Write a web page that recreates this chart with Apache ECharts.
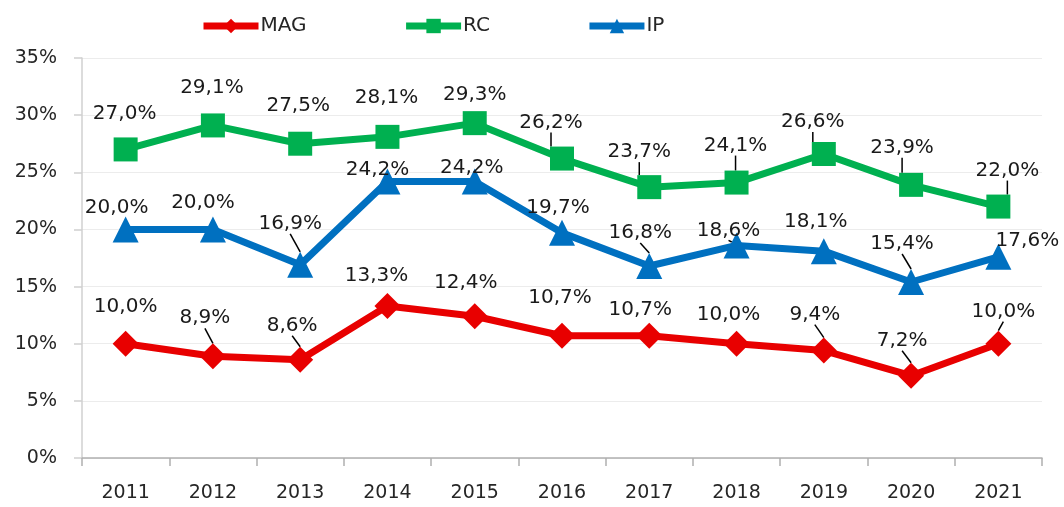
<!DOCTYPE html>
<html>
<head>
<meta charset="utf-8">
<script src="https://cdn.jsdelivr.net/npm/echarts@6/dist/echarts.min.js"></script>
<style>
  html, body { margin: 0; padding: 0; background: #fff; }
  #chart { width: 1064px; height: 507px; }
</style>
</head>
<body>
<div id="chart"></div>
<script>
// data
var years = ['2011', '2012', '2013', '2014', '2015', '2016', '2017', '2018', '2019', '2020', '2021'];
var mag = [10.0, 8.9, 8.6, 13.3, 12.4, 10.7, 10.7, 10.0, 9.4, 7.2, 10.0];
var rc = [27.0, 29.1, 27.5, 28.1, 29.3, 26.2, 23.7, 24.1, 26.6, 23.9, 22.0];
var ip = [20.0, 20.0, 16.9, 24.2, 24.2, 19.7, 16.8, 18.6, 18.1, 15.4, 17.6];
var yTicks = [0, 5, 10, 15, 20, 25, 30, 35];

// label placement (dx, dy from the marker) and which labels get a leader line
var magPos = [[0, -37], [-8, -38], [-8, -34], [-11, -30], [-9, -33], [-2, -38], [-9, -26], [-8, -29], [-9, -36], [-9, -35], [5, -32]];
var rcPos = [[-1, -36], [-1, -38], [-2, -38], [-1, -39], [0, -28], [-11, -36], [-10, -35], [-1, -37], [-11, -32], [-9, -37], [9, -36]];
var ipPos = [[-9, -22], [-10, -27], [-10, -41], [-10, -12], [-3, -14], [-4, -25], [-9, -33], [-8, -15], [-8, -29], [-9, -38], [29, -16]];
var magLead = [1, 2, 8, 9, 10];
var rcLead = [5, 6, 7, 8, 9, 10];
var ipLead = [2, 6, 7, 9];

var FONT = 'DejaVu Sans';

function fmt(v) {
    return v.toFixed(1).replace('.', ',') + '%';
}

function makeData(values, lead) {
    return values.map(function (v, i) {
        return {
            value: v,
            labelLine: { show: lead.indexOf(i) >= 0 }
        };
    });
}

function makeSeries(name, values, lead, pos, color, symbol, size) {
    return {
        name: name,
        type: 'line',
        data: makeData(values, lead),
        symbol: symbol,
        symbolSize: size,
        lineStyle: { color: color, width: 7 },
        itemStyle: { color: color },
        label: {
            show: true,
            position: 'inside',
            formatter: function (p) { return fmt(p.value); },
            fontFamily: FONT,
            fontSize: 20,
            color: '#1a1a1a'
        },
        labelLine: {
            show: false,
            lineStyle: { color: '#000', width: 1.5 }
        },
        labelLayout: function (p) {
            return { dx: pos[p.dataIndex][0], dy: pos[p.dataIndex][1] };
        },
        z: 2
    };
}

var chart = echarts.init(document.getElementById('chart'), null, { renderer: 'canvas' });

var option = {
    animation: false,
    backgroundColor: '#fff',
    legend: {
        left: 195,
        top: 11,
        itemWidth: 55,
        itemHeight: 18,
        itemGap: 96,
        lineStyle: { width: 7 },
        textStyle: { fontFamily: FONT, fontSize: 20, color: '#262626', padding: [0, 0, 0, -3] },
        data: ['MAG', 'RC', 'IP']
    },
    grid: {
        left: 82,
        right: 22,
        top: 58,
        bottom: 49
    },
    xAxis: {
        type: 'category',
        data: years,
        boundaryGap: true,
        axisLine: { lineStyle: { color: '#b0b0b0', width: 1.5 } },
        axisTick: { show: true, length: 8, lineStyle: { color: '#b0b0b0', width: 1.5 } },
        axisLabel: { fontFamily: FONT, fontSize: 19, color: '#262626', margin: 26 }
    },
    yAxis: {
        type: 'value',
        min: yTicks[0],
        max: yTicks[yTicks.length - 1],
        interval: 5,
        axisLine: { show: true, lineStyle: { color: '#d0d0d0', width: 1.5 } },
        axisTick: { show: true, length: 8, lineStyle: { color: '#d0d0d0', width: 1.5 } },
        splitLine: { lineStyle: { color: '#ececec', width: 1 } },
        axisLabel: {
            fontFamily: FONT,
            fontSize: 19,
            color: '#262626',
            margin: 25,
            formatter: function (v) { return v + '%'; }
        }
    },
    series: [
        makeSeries('MAG', mag, magLead, magPos, '#e80000', 'diamond', 26),
        makeSeries('RC', rc, rcLead, rcPos, '#00b050', 'rect', 24),
        makeSeries('IP', ip, ipLead, ipPos, '#0070c0', 'triangle', 26)
    ]
};

chart.setOption(option);
</script>
</body>
</html>
